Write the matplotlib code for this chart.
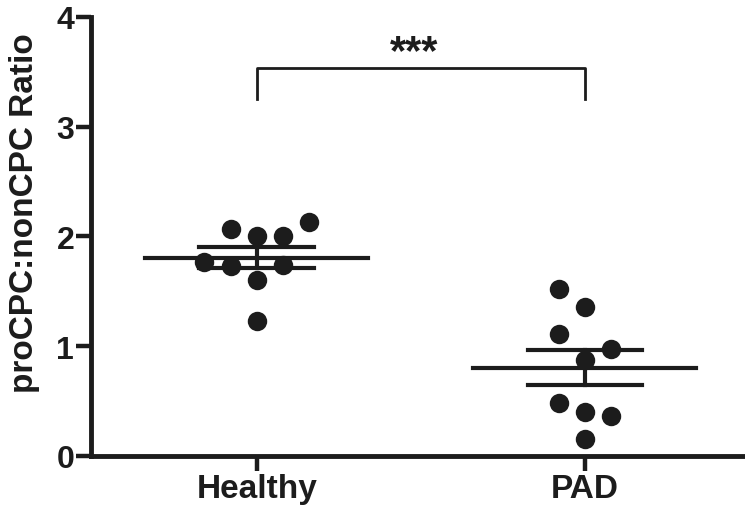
import matplotlib
matplotlib.use("Agg")
import matplotlib.pyplot as plt
import numpy as np

groups = ["Healthy", "PAD"]
healthy = [2.07, 2.00, 2.00, 2.13, 1.77, 1.73, 1.74, 1.60, 1.23]
pad = [1.52, 1.36, 1.11, 0.97, 0.87, 0.48, 0.40, 0.36, 0.15]
# horizontal scatter offsets (beeswarm layout), in category units
healthy_dx = [-0.08, 0.0, 0.08, 0.16, -0.16, -0.08, 0.08, 0.0, 0.0]
pad_dx = [-0.08, 0.0, -0.08, 0.08, 0.0, -0.08, 0.0, 0.08, 0.0]
sig_label = "***"

INK = "#1c1c1c"
plt.rcParams["font.family"] = ["Liberation Sans", "DejaVu Sans"]
plt.rcParams["font.weight"] = "bold"

fig = plt.figure(figsize=(7.45, 5.10), dpi=100)
ax = fig.add_axes([0.122, 0.104, 0.878, 0.861])

for i, (vals, dx) in enumerate([(healthy, healthy_dx), (pad, pad_dx)], start=1):
    v = np.asarray(vals)
    x = i + np.asarray(dx)
    ax.plot(x, v, "o", color=INK, ms=14, mec="none", zorder=3, clip_on=False)
    m = v.mean()
    sem = v.std(ddof=1) / np.sqrt(len(v))
    ax.plot([i - 0.34, i + 0.34], [m, m], color=INK, lw=3, zorder=4)
    ax.plot([i - 0.175, i + 0.175], [m + sem, m + sem], color=INK, lw=3, zorder=4)
    ax.plot([i - 0.175, i + 0.175], [m - sem, m - sem], color=INK, lw=3, zorder=4)
    ax.plot([i, i], [m - sem, m + sem], color=INK, lw=3, zorder=4)

# significance bracket
ax.plot([1, 1, 2, 2], [3.25, 3.53, 3.53, 3.25], color=INK, lw=2)
ax.text(1.48, 3.58, sig_label, ha="center", va="baseline", fontsize=30, color=INK)

ax.set_xlim(0.494, 2.488)
ax.set_ylim(0, 4)
ax.set_xticks([1, 2])
ax.set_xticklabels(groups)
ax.set_yticks([0, 1, 2, 3, 4])
ax.set_ylabel("proCPC:nonCPC Ratio", fontsize=24, fontweight="bold", color=INK)
ax.yaxis.set_label_coords(-0.078, 0.556)
ax.tick_params(axis="both", length=11, width=3.2, color=INK, labelsize=23,
               labelcolor=INK, pad=1)
ax.tick_params(axis="x", labelsize=24)
for s in ["top", "right"]:
    ax.spines[s].set_visible(False)
for s in ["left", "bottom"]:
    ax.spines[s].set_linewidth(3.5)
    ax.spines[s].set_color(INK)

fig.savefig("out.png", dpi=100)
